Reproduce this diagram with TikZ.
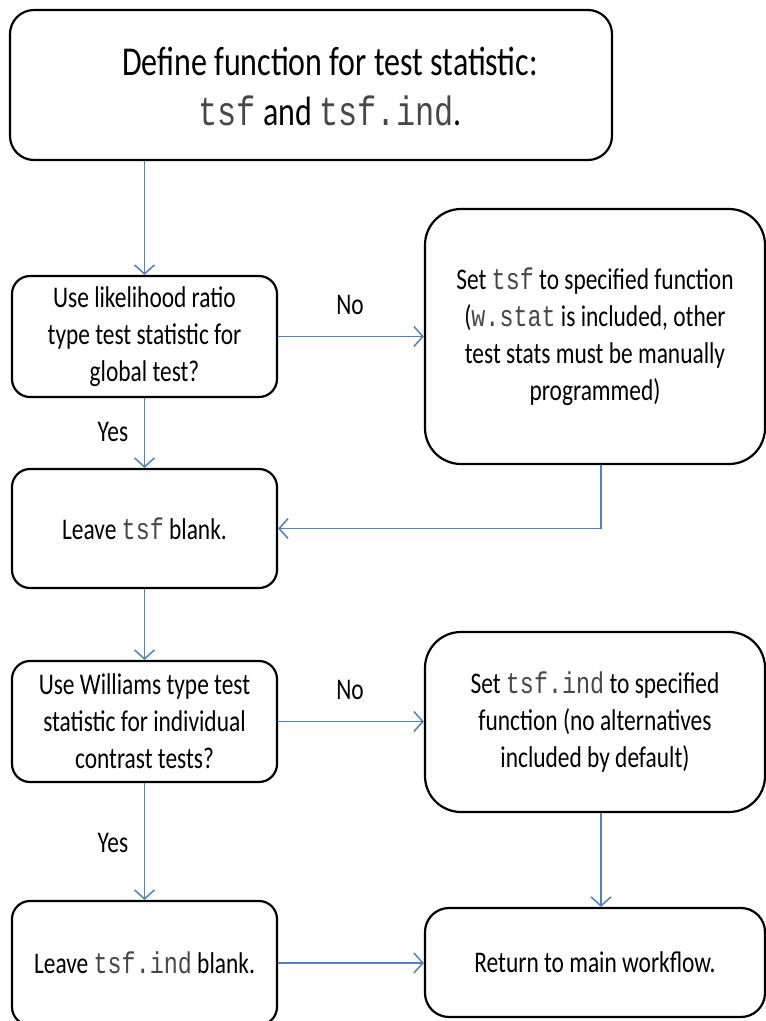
\documentclass[tikz,border=0pt]{standalone}
\usepackage{fontspec}
\setmainfont{Carlito}[FakeStretch=0.78]
\setmonofont{Liberation Mono}[FakeStretch=0.78]
\usetikzlibrary{arrows.meta}
\definecolor{arrowblue}{HTML}{4F81BD}
\newcommand{\cde}[1]{\textcolor{black!72}{\texttt{#1}}}
\begin{document}
\begin{tikzpicture}[x=1pt,y=-1pt,
  box/.style={draw=black, line width=2.2pt, align=center, inner sep=0pt,
    font=\fontsize{30}{37}\selectfont},
  conn/.style={draw=arrowblue, line width=1.5pt,
    -{Straight Barb[length=9pt,width=20pt,line width=1.5pt]}},
  lbl/.style={font=\fontsize{30}{37}\selectfont, inner sep=0pt}]
\useasboundingbox (0,0) rectangle (766,1021);

\node[box, rounded corners=24pt, minimum width=602pt, minimum height=150pt] (A) at (311,85) {};
\node[align=center, inner sep=0pt, font=\fontsize{41}{50}\selectfont] (Atext) at (330,87)
  {Define function for test statistic:\\\cde{tsf} and \cde{tsf.ind}.};

\node[box, rounded corners=18pt, minimum width=265pt, minimum height=121pt] (B) at (144.5,336.5)
  {Use likelihood ratio\\type test statistic for\\global test?};

\node[box, rounded corners=36pt, minimum width=340pt, minimum height=255pt] (C) at (595,336.5)
  {Set \cde{tsf} to specified function\\(\cde{w.stat} is included, other\\test stats must be manually\\programmed)};

\node[box, rounded corners=18pt, minimum width=265pt, minimum height=119pt] (D) at (144.5,528.5)
  {Leave \cde{tsf} blank.};

\node[box, rounded corners=18pt, minimum width=265pt, minimum height=121pt] (E) at (144.5,721.5)
  {Use Williams type test\\statistic for individual\\contrast tests?};

\node[box, rounded corners=36pt, minimum width=340pt, minimum height=180pt] (F) at (595,722)
  {Set \cde{tsf.ind} to specified\\function (no alternatives\\included by default)};

\node[box, rounded corners=18pt, minimum width=265pt, minimum height=124pt] (G) at (144.5,963)
  {Leave \cde{tsf.ind} blank.};

\node[box, rounded corners=24pt, minimum width=340pt, minimum height=109pt] (H) at (595,962.5)
  {Return to main workflow.};

\node[lbl] (no1) at (350,305) {No};
\node[lbl] (yes1) at (113,432) {Yes};
\node[lbl] (no2) at (350,690) {No};
\node[lbl] (yes2) at (113,843) {Yes};

\draw[conn] (A.south -| B.north) -- (B.north);
\draw[conn] (B.east) -- (B.east -| C.west);
\draw[conn] (B.south) -- (D.north);
\draw[conn] ([xshift=6pt]C.south) |- (D.east);
\draw[conn] (D.south) -- (E.north);
\draw[conn] (E.east) -- (E.east -| F.west);
\draw[conn] (E.south) -- (G.north);
\draw[conn] ([xshift=6pt]F.south) -- ([xshift=6pt]H.north);
\draw[conn] (G.east) -- (G.east -| H.west);
\end{tikzpicture}
\end{document}
